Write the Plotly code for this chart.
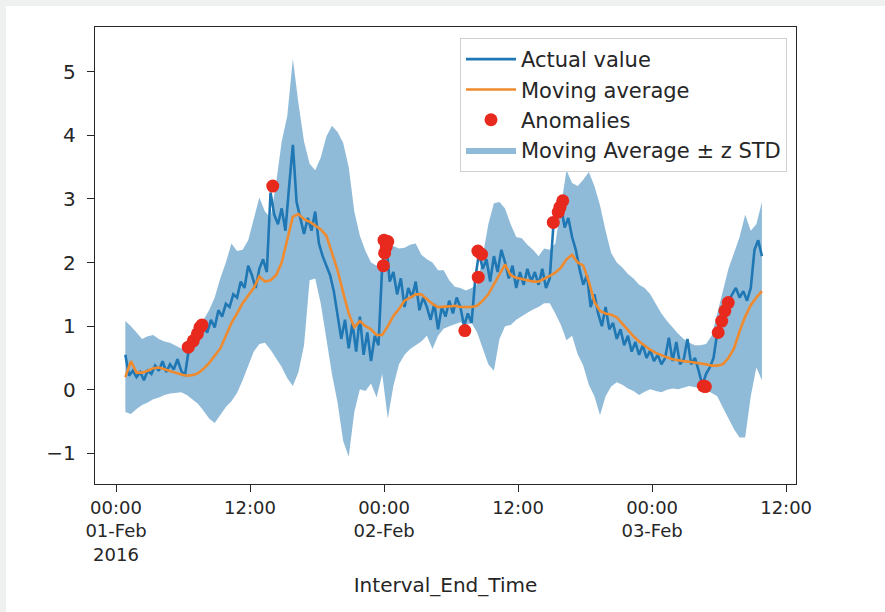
import pandas as pd
import plotly.graph_objects as go

# ---------------- data ----------------
band_start = "2016-02-01 00:50"      # 30-minute grid for band + moving average
actual_start = "2016-02-01 00:50"    # 20-minute grid for actual values

upper_band = [
    1.08, 1.00, 0.90, 0.80, 0.84, 0.86, 0.80, 0.76, 0.74, 0.70,
    0.65, 0.66, 0.76, 0.95, 1.10, 1.25, 1.45, 1.75, 2.00, 2.30,
    2.18, 2.20, 2.35, 2.70, 3.02, 2.80, 2.70, 3.25, 3.90, 4.30,
    5.20, 4.50, 3.90, 3.55, 3.45, 3.65, 3.98, 4.15, 4.05, 3.88,
    3.50, 2.80, 2.42, 2.18, 2.00, 1.95, 2.05, 2.20, 2.26, 2.22,
    2.23, 2.28, 2.30, 2.12, 2.05, 2.00, 1.88, 1.88, 1.72, 1.62,
    1.60, 1.56, 1.60, 1.66, 2.10, 2.60, 2.93, 2.95, 2.85, 2.60,
    2.40, 2.38, 2.28, 2.20, 2.10, 2.22, 2.20, 2.30, 2.90, 3.45,
    3.25, 3.20, 3.30, 3.42, 3.20, 2.90, 2.50, 2.15, 2.00, 1.92,
    1.82, 1.75, 1.65, 1.60, 1.50, 1.35, 1.20, 1.08, 0.98, 0.88,
    0.80, 0.74, 0.70, 0.70, 0.72, 0.85, 1.20, 1.55, 1.90, 2.15,
    2.40, 2.75, 2.50, 2.60, 2.95,
]

lower_band = [
    -0.35, -0.38, -0.30, -0.24, -0.20, -0.15, -0.12, -0.08, -0.06, -0.05,
    -0.04, -0.08, -0.15, -0.22, -0.33, -0.45, -0.52, -0.40, -0.27, -0.18,
    -0.05, 0.15, 0.38, 0.60, 0.72, 0.74, 0.63, 0.50, 0.36, 0.18,
    0.06, 0.28, 0.70, 1.72, 1.75, 1.35, 0.80, 0.25, -0.20, -0.80,
    -1.05, -0.35, 0.01, -0.02, 0.10, -0.12, 0.25, -0.45, 0.06, 0.40,
    0.55, 0.64, 0.70, 0.76, 0.85, 0.64, 0.85, 0.96, 1.00, 1.03,
    1.06, 1.02, 1.05, 0.90, 0.66, 0.40, 0.30, 0.80, 1.00, 1.02,
    1.10, 1.16, 1.21, 1.26, 1.30, 1.36, 1.36, 1.20, 1.02, 0.78,
    0.85, 0.56, 0.38, 0.08, -0.10, -0.40, -0.10, 0.05, 0.12, 0.08,
    0.02, -0.02, -0.08, -0.03, 0.01, -0.02, -0.04, 0.00, 0.02, 0.01,
    0.04, 0.06, 0.04, 0.02, 0.00, -0.05, -0.10, -0.28, -0.45, -0.62,
    -0.75, -0.75, -0.10, 0.35, 0.15,
]

moving_average = [
    0.20, 0.45, 0.27, 0.27, 0.30, 0.34, 0.35, 0.32, 0.30, 0.27,
    0.24, 0.22, 0.23, 0.26, 0.33, 0.42, 0.53, 0.65, 0.85, 1.05,
    1.20, 1.36, 1.48, 1.60, 1.78, 1.70, 1.72, 1.80, 2.00, 2.35,
    2.72, 2.76, 2.68, 2.64, 2.58, 2.52, 2.42, 2.15, 1.88, 1.53,
    1.20, 0.98, 1.08, 1.00, 0.95, 0.86, 0.86, 1.00, 1.16, 1.27,
    1.40, 1.45, 1.50, 1.50, 1.42, 1.35, 1.30, 1.30, 1.31, 1.32,
    1.30, 1.30, 1.30, 1.32, 1.40, 1.50, 1.65, 1.80, 1.97, 1.80,
    1.76, 1.74, 1.72, 1.70, 1.70, 1.74, 1.79, 1.84, 1.92, 2.05,
    2.12, 2.00, 1.95, 1.70, 1.38, 1.24, 1.20, 1.18, 1.14, 1.04,
    0.94, 0.84, 0.76, 0.69, 0.63, 0.58, 0.54, 0.51, 0.48, 0.46,
    0.45, 0.44, 0.43, 0.42, 0.40, 0.38, 0.38, 0.40, 0.50, 0.65,
    0.92, 1.15, 1.33, 1.45, 1.55,
]

actual_value = [
    0.55, 0.22, 0.30, 0.20, 0.28, 0.15, 0.30, 0.25, 0.38, 0.30,
    0.45, 0.28, 0.40, 0.32, 0.48, 0.30, 0.22, 0.62, 0.77, 0.85,
    0.98, 1.00, 0.90, 1.10, 0.98, 1.25, 1.15, 1.35, 1.30, 1.50,
    1.45, 1.70, 1.60, 1.95, 1.80, 1.60, 1.90, 2.05, 1.85, 3.10,
    2.75, 2.60, 2.85, 2.50, 3.20, 3.85, 2.95, 2.70, 2.45, 2.70,
    2.50, 2.80, 2.30, 2.10, 1.95, 1.80, 1.55, 1.20, 0.80, 1.10,
    0.65, 1.05, 0.60, 1.15, 0.55, 0.90, 0.45, 0.85, 0.70, 1.95,
    2.35, 1.70, 1.85, 1.50, 1.75, 1.30, 1.60, 1.45, 1.70, 1.25,
    1.45, 1.30, 1.10, 1.35, 0.95, 1.30, 1.15, 1.40, 1.20, 1.45,
    1.30, 1.00, 1.20, 1.05, 1.75, 2.15, 1.90, 2.05, 1.70, 2.10,
    1.85, 2.20, 2.00, 1.75, 1.95, 1.60, 1.85, 1.65, 1.90, 1.70,
    1.85, 1.65, 1.90, 1.60, 1.75, 2.60, 2.75, 2.90, 2.55, 2.70,
    2.40, 2.20, 1.90, 1.65, 1.80, 1.30, 1.50, 1.20, 1.00, 1.30,
    0.95, 1.05, 0.80, 0.95, 0.70, 0.85, 0.60, 0.75, 0.55, 0.70,
    0.50, 0.62, 0.45, 0.55, 0.40, 0.50, 0.82, 0.45, 0.75, 0.40,
    0.48, 0.80, 0.40, 0.50, 0.30, 0.07, 0.25, 0.35, 0.50, 0.90,
    1.08, 1.24, 1.37, 1.50, 1.60, 1.45, 1.55, 1.40, 1.60, 2.20,
    2.35, 2.10,
]

anomaly_times = [
    "2016-02-01 06:28", "2016-02-01 06:55", "2016-02-01 07:17", "2016-02-01 07:31",
    "2016-02-01 07:42", "2016-02-01 14:02", "2016-02-01 23:56", "2016-02-02 00:03",
    "2016-02-02 00:00", "2016-02-02 00:20", "2016-02-02 00:12", "2016-02-02 07:14",
    "2016-02-02 08:26", "2016-02-02 08:24", "2016-02-02 08:44", "2016-02-02 15:09",
    "2016-02-02 15:36", "2016-02-02 15:45", "2016-02-02 16:00", "2016-02-03 04:35",
    "2016-02-03 04:46", "2016-02-03 05:55", "2016-02-03 06:14", "2016-02-03 06:31",
    "2016-02-03 06:49",
]
anomaly_values = [
    0.67, 0.77, 0.88, 0.98,
    1.02, 3.20, 1.95, 2.15,
    2.35, 2.33, 2.25, 0.93,
    1.77, 2.18, 2.13, 2.63,
    2.79, 2.87, 2.97, 0.06,
    0.05, 0.90, 1.08, 1.24,
    1.37,
]

x_tick_times = ["2016-02-01 00:00", "2016-02-01 12:00", "2016-02-02 00:00",
                "2016-02-02 12:00", "2016-02-03 00:00", "2016-02-03 12:00"]
x_tick_labels = ["00:00<br>01-Feb<br>2016", "12:00", "00:00<br>02-Feb",
                 "12:00", "00:00<br>03-Feb", "12:00"]
y_tick_values = [-1, 0, 1, 2, 3, 4, 5]
y_tick_labels = ["\u22121", "0", "1", "2", "3", "4", "5"]

# ---------------- figure ----------------
band_times = pd.date_range(band_start, periods=len(upper_band), freq="30min")
actual_times = pd.date_range(actual_start, periods=len(actual_value), freq="20min")

BLUE = "#1f77b4"
ORANGE = "#ef8a2e"
RED = "#e8291e"
FONT = "DejaVu Sans, Liberation Sans, sans-serif"

fig = go.Figure()
fig.add_trace(go.Scatter(x=band_times, y=lower_band, mode="lines",
                         line=dict(width=0, color=BLUE), showlegend=False,
                         hoverinfo="skip"))
fig.add_trace(go.Scatter(x=band_times, y=upper_band, mode="lines",
                         line=dict(width=0, color=BLUE), fill="tonexty",
                         fillcolor="rgba(31,119,180,0.5)",
                         name="Moving Average \u00b1 z STD", legendrank=4))
fig.add_trace(go.Scatter(x=actual_times, y=actual_value, mode="lines",
                         line=dict(color=BLUE, width=2.6, shape="linear"),
                         name="Actual value", legendrank=1))
fig.add_trace(go.Scatter(x=band_times, y=moving_average, mode="lines",
                         line=dict(color=ORANGE, width=2.6),
                         name="Moving average", legendrank=2))
fig.add_trace(go.Scatter(x=pd.to_datetime(anomaly_times), y=anomaly_values,
                         mode="markers", marker=dict(color=RED, size=13),
                         name="Anomalies", legendrank=3))

L, R, T, B = 95, 796, 27, 484
W, H = 885, 612

def px_x(p):
    return (p - L) / (R - L)

def px_y(p):
    return (B - p) / (B - T)

# light grey frame on the top and left edges, white elsewhere
fig.add_shape(type="rect", xref="paper", yref="paper",
              x0=px_x(6), x1=px_x(W + 10), y0=px_y(H + 10), y1=px_y(6),
              fillcolor="white", line=dict(width=0), layer="below")

fig.update_layout(
    width=W, height=H,
    margin=dict(l=L, r=W - R, t=T, b=H - B),
    paper_bgcolor="#eff1f1",
    plot_bgcolor="rgba(0,0,0,0)",
    font=dict(family=FONT, size=20, color="#262626"),
    showlegend=True,
    legend=dict(x=px_x(787), y=px_y(38), xanchor="right", yanchor="top",
                bgcolor="rgba(255,255,255,0.85)", bordercolor="#d0d0d0",
                borderwidth=1, font=dict(size=21), itemwidth=50,
                traceorder="normal"),
    xaxis=dict(
        type="date",
        range=["2016-01-31 22:07", "2016-02-03 12:53"],
        tickmode="array", tickvals=x_tick_times, ticktext=x_tick_labels,
        ticks="outside", ticklen=7, tickwidth=1.4, tickcolor="#262626",
        showline=True, linecolor="#262626", linewidth=1.4, mirror=True,
        showgrid=False, zeroline=False,
        tickfont=dict(size=18),
        title=dict(text="Interval_End_Time", font=dict(size=20), standoff=14),
    ),
    yaxis=dict(
        range=[-1.48, 5.70],
        tickmode="array", tickvals=y_tick_values, ticktext=y_tick_labels,
        ticks="outside", ticklen=7, tickwidth=1.4, tickcolor="#262626",
        showline=True, linecolor="#262626", linewidth=1.4, mirror=True,
        showgrid=False, zeroline=False,
        tickfont=dict(size=20), ticklabelstandoff=7,
    ),
)

fig.write_html("out.html",
               config={"displayModeBar": False},
               post_script="document.body.style.margin='0px';"
                           "document.body.style.padding='0px';")
